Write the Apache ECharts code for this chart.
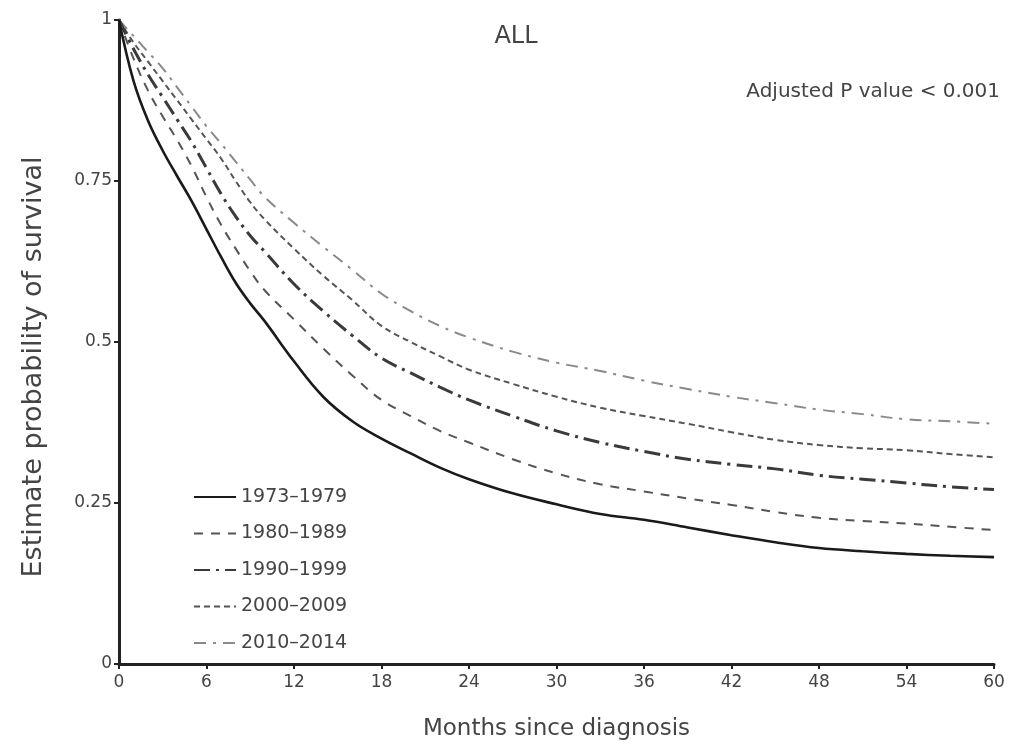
<!DOCTYPE html>
<html>
<head>
<meta charset="utf-8">
<script src="https://cdn.jsdelivr.net/npm/echarts@6/dist/echarts.min.js"></script>
<style>
html,body{margin:0;padding:0;background:#fff;}
#chart{width:1015px;height:746px;}
</style>
</head>
<body>
<div id="chart"></div>
<script>
var months = [0,1,2,3,4,5,6,7,8,9,10,12,14,16,18,20,22,24,27,30,33,36,39,42,45,48,51,54,57,60];
var xTicks = ['0','6','12','18','24','30','36','42','48','54','60'];
var yTicks = ['0','0.25','0.5','0.75','1'];
var seriesNames = ['1973–1979','1980–1989','1990–1999','2000–2009','2010–2014'];
var s1973 = [1,0.905,0.843,0.797,0.757,0.718,0.675,0.632,0.592,0.56,0.532,0.47,0.415,0.377,0.35,0.327,0.305,0.287,0.265,0.248,0.233,0.224,0.212,0.200,0.189,0.180,0.175,0.171,0.168,0.166];
var s1980 = [1,0.94,0.89,0.85,0.813,0.772,0.725,0.682,0.645,0.61,0.58,0.535,0.49,0.448,0.41,0.385,0.362,0.344,0.318,0.296,0.279,0.268,0.257,0.247,0.236,0.227,0.222,0.218,0.213,0.208];
var s1990 = [1,0.955,0.915,0.88,0.845,0.81,0.77,0.73,0.695,0.665,0.64,0.59,0.548,0.51,0.475,0.452,0.43,0.41,0.385,0.362,0.344,0.33,0.318,0.31,0.303,0.293,0.287,0.281,0.275,0.271];
var s2000 = [1,0.965,0.935,0.905,0.875,0.845,0.815,0.785,0.75,0.717,0.69,0.645,0.603,0.565,0.525,0.5,0.478,0.457,0.435,0.415,0.398,0.385,0.373,0.36,0.348,0.34,0.335,0.332,0.326,0.321];
var s2010 = [1,0.975,0.95,0.925,0.895,0.865,0.835,0.808,0.78,0.752,0.725,0.685,0.648,0.612,0.575,0.548,0.525,0.507,0.485,0.468,0.455,0.44,0.427,0.415,0.405,0.395,0.388,0.38,0.377,0.373];

var FONT = "'DejaVu Sans','Liberation Sans',Arial,sans-serif";
function pairs(v){ return months.map(function(m,i){ return [m, v[i]]; }); }

var styles = [
  {color:'#1a1a1a', width:2.6, type:'solid'},
  {color:'#555555', width:2, type:[9,8]},
  {color:'#3a3a3a', width:3, type:[16,6,3,6]},
  {color:'#555555', width:2, type:[6,4]},
  {color:'#8a8a8a', width:2, type:[12,7,3,7]}
];
var allData = [s1973, s1980, s1990, s2000, s2010];

var chart = echarts.init(document.getElementById('chart'), null, {renderer:'canvas'});
chart.setOption({
  animation:false,
  backgroundColor:'#ffffff',
  title:[
    {text:'ALL', left:511, top:20, textAlign:'center', textStyle:{fontFamily:FONT, fontSize:24, fontWeight:'normal', color:'#444'}},
    {text:'Adjusted P value < 0.001', right:10, top:77, textStyle:{fontFamily:FONT, fontSize:20, fontWeight:'normal', color:'#444'}}
  ],
  graphic:[
    {type:'text', x:34, y:367, rotation:Math.PI/2,
     style:{text:'Estimate probability of survival', font:"27px 'DejaVu Sans', sans-serif", fill:'#444', align:'center', verticalAlign:'middle'}}
  ],
  grid:{left:119, right:21, top:20, bottom:78, containLabel:false},
  legend:{
    orient:'vertical', left:193, top:487, padding:0,
    itemWidth:42, itemHeight:20, itemGap:16.5,
    itemStyle:{opacity:0},
    textStyle:{fontFamily:FONT, fontSize:19, color:'#444', lineHeight:20},
    data:seriesNames
  },
  xAxis:{
    type:'value', min:0, max:60, interval:6,
    name:'Months since diagnosis', nameLocation:'middle', nameGap:54,
    nameTextStyle:{fontFamily:FONT, fontSize:23, color:'#444'},
    axisLine:{lineStyle:{color:'#222', width:3}},
    axisTick:{show:true, length:5, lineStyle:{color:'#222', width:2}},
    axisLabel:{fontFamily:FONT, fontSize:17, color:'#444', margin:10,
      formatter:function(v){ var i = Math.round(v/6); return xTicks[i] !== undefined ? xTicks[i] : ''; }},
    splitLine:{show:false}
  },
  yAxis:{
    type:'value', min:0, max:1, interval:0.25,
    axisLine:{show:true, lineStyle:{color:'#222', width:3}},
    axisTick:{show:true, length:5, lineStyle:{color:'#222', width:2}},
    axisLabel:{fontFamily:FONT, fontSize:17, color:'#444', margin:7,
      formatter:function(v){ var i = Math.round(v/0.25); return yTicks[i] !== undefined ? yTicks[i] : ''; }},
    splitLine:{show:false}
  },
  series: seriesNames.map(function(n,i){
    return {
      name:n, type:'line', smooth:0.4, symbol:'none',
      data:pairs(allData[i]),
      itemStyle:{color:styles[i].color},
      lineStyle:{color:styles[i].color, width:styles[i].width, type:styles[i].type},
      z: 5 - i
    };
  })
});
</script>
</body>
</html>
